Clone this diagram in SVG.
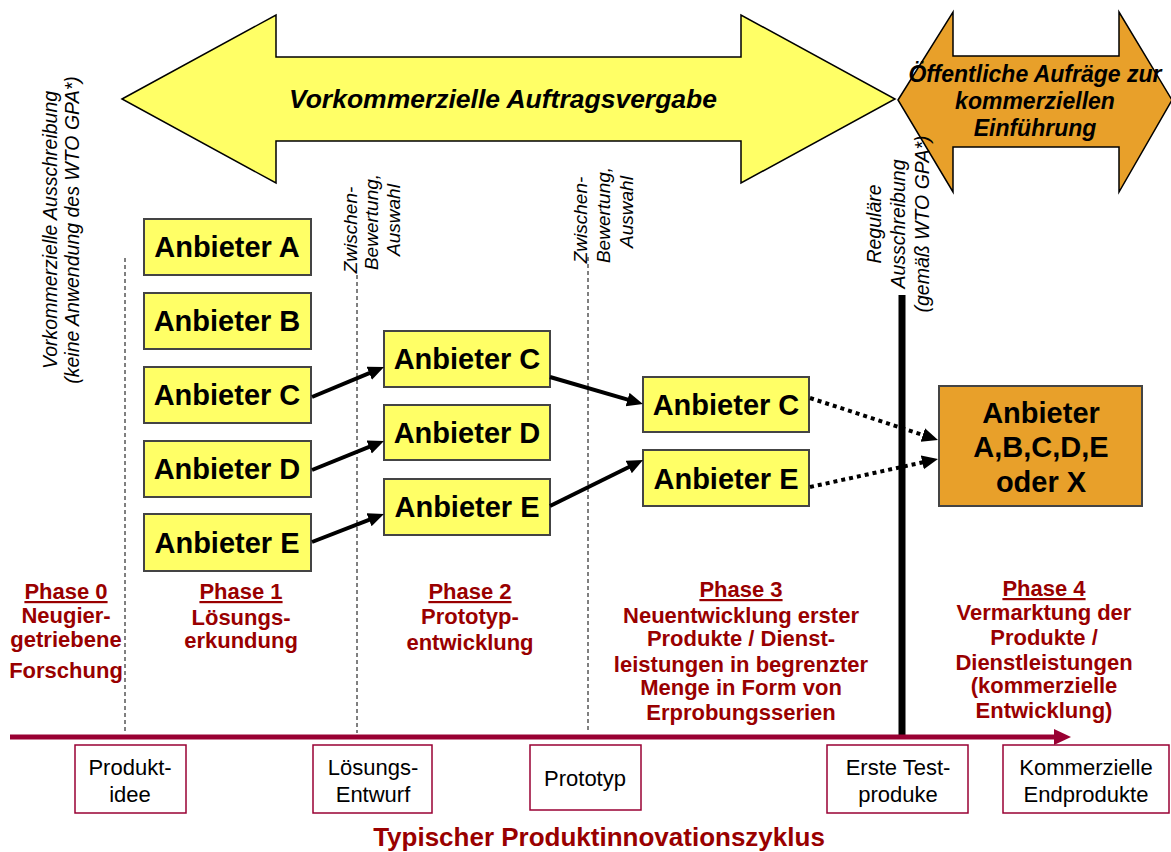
<svg xmlns="http://www.w3.org/2000/svg" width="1171" height="852" viewBox="0 0 1171 852">
<style>
text{font-family:"Liberation Sans",Arial,sans-serif}
.box{fill:#FFFF66;stroke:#444;stroke-width:2}
.obox{fill:#E8A02A;stroke:#444;stroke-width:2}
.bt{font-size:29px;font-weight:bold;fill:#000;text-anchor:middle}
.rot{font-size:19.5px;font-style:italic;fill:#000;text-anchor:middle}
.ph{font-size:22px;font-weight:bold;fill:#990000;text-anchor:middle}
.phu{text-decoration:underline}
.ms{fill:#fff;stroke:#990033;stroke-width:1.5}
.mt{font-size:22px;fill:#000;text-anchor:middle}
.dash{stroke:#000;stroke-width:1;stroke-dasharray:4 3;fill:none}
.arr{stroke:#000;stroke-width:4;fill:none}
.dot{stroke:#000;stroke-width:4;stroke-dasharray:4 4;fill:none}
.ot{font-size:23px;font-weight:bold;font-style:italic;text-anchor:middle}
</style>
<defs>
<marker id="ah" markerUnits="userSpaceOnUse" markerWidth="18" markerHeight="16" refX="2" refY="7" orient="auto">
<path d="M0,0 L16,7 L0,14 z" fill="#000"/>
</marker>
</defs>
<rect width="1171" height="852" fill="#fff"/>

<g id="arrow-vorkommerziell">
<polygon points="122,99 276,15 276,57 741,57 741,15 895,99 741,183 741,141 276,141 276,183" fill="#FFFF66" stroke="#000" stroke-width="1.5"/>
<text x="503" y="108" style="font-size:26.5px;font-weight:bold;font-style:italic;text-anchor:middle">Vorkommerzielle Auftragsvergabe</text>
</g>
<g id="arrow-oeffentlich">
<polygon points="898,100 953,12 953,56 1119,56 1119,12 1172,100 1119,192 1119,147 953,147 953,192" fill="#E8A02A" stroke="#000" stroke-width="1.5"/>
<text class="ot" x="1035" y="82">Öffentliche Aufräge zur</text>
<text class="ot" x="1035" y="109">kommerziellen</text>
<text class="ot" x="1035" y="136">Einführung</text>
</g>

<g id="separators">
<line class="dash" x1="125" y1="258" x2="125" y2="733"/>
<line class="dash" x1="357" y1="275" x2="357" y2="733"/>
<line class="dash" x1="588" y1="257" x2="588" y2="733"/>
<line x1="902" y1="295" x2="902" y2="735" stroke="#000" stroke-width="7"/>
</g>

<g id="label-vorkommerziell-ausschreibung">
<text class="rot" transform="translate(57,230) rotate(-90)">Vorkommerzielle Ausschreibung</text>
<text class="rot" transform="translate(79,230) rotate(-90)">(keine Anwendung des WTO GPA*)</text>
</g>
<g id="label-zwischen-1">
<text class="rot" style="font-size:19px" transform="translate(357,230) rotate(-90)">Zwischen-</text>
<text class="rot" style="font-size:19px" transform="translate(378,222) rotate(-90)">Bewertung,</text>
<text class="rot" style="font-size:19px" transform="translate(400,220) rotate(-90)">Auswahl</text>
</g>
<g id="label-zwischen-2">
<text class="rot" style="font-size:19px" transform="translate(587,220) rotate(-90)">Zwischen-</text>
<text class="rot" style="font-size:19px" transform="translate(610,215) rotate(-90)">Bewertung,</text>
<text class="rot" style="font-size:19px" transform="translate(633,212) rotate(-90)">Auswahl</text>
</g>
<g id="label-regulaere">
<text class="rot" transform="translate(881,224) rotate(-90)">Reguläre</text>
<text class="rot" transform="translate(905,224) rotate(-90)">Ausschreibung</text>
<text class="rot" transform="translate(929,224) rotate(-90)">(gemäß WTO GPA*)</text>
</g>

<g id="p1-a"><rect class="box" x="144" y="219" width="167" height="56"/><text class="bt" x="227" y="257">Anbieter A</text></g>
<g id="p1-b"><rect class="box" x="144" y="293" width="167" height="56"/><text class="bt" x="227" y="331">Anbieter B</text></g>
<g id="p1-c"><rect class="box" x="144" y="367" width="167" height="56"/><text class="bt" x="227" y="405">Anbieter C</text></g>
<g id="p1-d"><rect class="box" x="144" y="441" width="167" height="56"/><text class="bt" x="227" y="479">Anbieter D</text></g>
<g id="p1-e"><rect class="box" x="144" y="514" width="167" height="57"/><text class="bt" x="227" y="553">Anbieter E</text></g>

<g id="p2-c"><rect class="box" x="384" y="331" width="166" height="56"/><text class="bt" x="467" y="369">Anbieter C</text></g>
<g id="p2-d"><rect class="box" x="384" y="405" width="166" height="55"/><text class="bt" x="467" y="443">Anbieter D</text></g>
<g id="p2-e"><rect class="box" x="384" y="479" width="166" height="56"/><text class="bt" x="467" y="517">Anbieter E</text></g>

<g id="p3-c"><rect class="box" x="643" y="377" width="166" height="55"/><text class="bt" x="726" y="415">Anbieter C</text></g>
<g id="p3-e"><rect class="box" x="643" y="450" width="166" height="56"/><text class="bt" x="726" y="489">Anbieter E</text></g>

<g id="p4"><rect class="obox" x="939" y="386" width="203" height="120"/>
<text class="bt" x="1041" y="423">Anbieter</text>
<text class="bt" x="1041" y="457">A,B,C,D,E</text>
<text class="bt" x="1041" y="492">oder X</text>
</g>

<g id="connectors">
<line class="arr" x1="312" y1="397" x2="371.1" y2="372.4" marker-end="url(#ah)"/>
<line class="arr" x1="312" y1="470" x2="371" y2="446.2" marker-end="url(#ah)"/>
<line class="arr" x1="312" y1="542" x2="370.9" y2="519.1" marker-end="url(#ah)"/>
<line class="arr" x1="550" y1="377" x2="629.5" y2="400.1" marker-end="url(#ah)"/>
<line class="arr" x1="550" y1="506" x2="630.5" y2="466.2" marker-end="url(#ah)"/>
<line class="dot" x1="810" y1="398" x2="924.7" y2="435.6" marker-end="url(#ah)"/>
<line class="dot" x1="810" y1="487" x2="924.3" y2="462" marker-end="url(#ah)"/>
</g>

<g id="phase-0">
<text class="ph phu" x="66" y="599">Phase 0</text>
<text class="ph" x="66" y="623">Neugier-</text>
<text class="ph" x="66" y="647">getriebene</text>
<text class="ph" x="66" y="678">Forschung</text>
</g>
<g id="phase-1">
<text class="ph phu" x="241" y="599">Phase 1</text>
<text class="ph" x="241" y="625">Lösungs-</text>
<text class="ph" x="241" y="648">erkundung</text>
</g>
<g id="phase-2">
<text class="ph phu" x="470" y="599">Phase 2</text>
<text class="ph" x="470" y="624">Prototyp-</text>
<text class="ph" x="470" y="650">entwicklung</text>
</g>
<g id="phase-3">
<text class="ph phu" x="741" y="597">Phase 3</text>
<text class="ph" x="741" y="623">Neuentwicklung erster</text>
<text class="ph" x="741" y="646">Produkte / Dienst-</text>
<text class="ph" x="741" y="672">leistungen in begrenzter</text>
<text class="ph" x="741" y="695">Menge in Form von</text>
<text class="ph" x="741" y="720">Erprobungsserien</text>
</g>
<g id="phase-4">
<text class="ph phu" x="1044" y="596">Phase 4</text>
<text class="ph" x="1044" y="620">Vermarktung der</text>
<text class="ph" x="1044" y="645">Produkte /</text>
<text class="ph" x="1044" y="670">Dienstleistungen</text>
<text class="ph" x="1044" y="693">(kommerzielle</text>
<text class="ph" x="1044" y="718">Entwicklung)</text>
</g>

<g id="timeline">
<line x1="10" y1="737" x2="1056" y2="737" stroke="#990033" stroke-width="5"/>
<polygon points="1054,729 1071,737 1054,745" fill="#990033"/>
</g>

<g id="m-produktidee"><rect class="ms" x="75" y="745" width="111" height="68"/>
<text class="mt" x="130" y="775">Produkt-</text><text class="mt" x="130" y="802">idee</text></g>
<g id="m-loesungsentwurf"><rect class="ms" x="313" y="745" width="119" height="68"/>
<text class="mt" x="373" y="775">Lösungs-</text><text class="mt" x="373" y="802">Entwurf</text></g>
<g id="m-prototyp"><rect class="ms" x="530" y="745" width="111" height="65"/>
<text class="mt" x="585" y="786">Prototyp</text></g>
<g id="m-testprodukte"><rect class="ms" x="827" y="745" width="141" height="68"/>
<text class="mt" x="898" y="775">Erste Test-</text><text class="mt" x="898" y="802">produke</text></g>
<g id="m-endprodukte"><rect class="ms" x="1003" y="745" width="166" height="68"/>
<text class="mt" x="1086" y="775">Kommerzielle</text><text class="mt" x="1086" y="802">Endprodukte</text></g>

<text x="599" y="846" style="font-size:26px;font-weight:bold;fill:#990000;text-anchor:middle">Typischer Produktinnovationszyklus</text>
</svg>
